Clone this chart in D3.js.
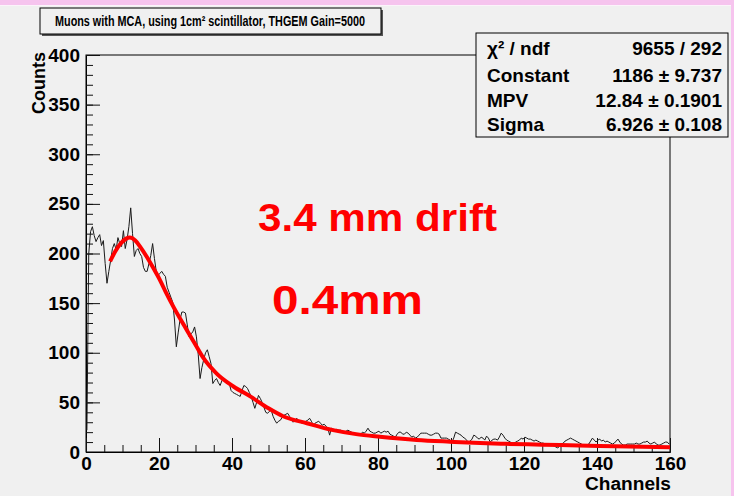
<!DOCTYPE html>
<html>
<head>
<meta charset="utf-8">
<script src="https://cdn.jsdelivr.net/npm/d3@7/dist/d3.min.js"></script>
<style>
  html, body { margin: 0; padding: 0; background: #f0f0f0; }
  svg { display: block; font-family: "Liberation Sans", Arial, sans-serif; font-weight: bold; }
</style>
</head>
<body>
<svg id="chart" width="734" height="496"></svg>
<script>
// Histogram: MCA counts per half-channel bin, channels 0..160
const binWidth = 0.5;
const counts = [
  22, 200, 222, 227, 218, 212, 216, 219, 208, 213,
  190, 170, 182, 193, 205, 210, 204, 216, 210, 207,
  223, 205, 214, 227, 246, 220, 197, 203, 205, 200,
  197, 186, 182, 182, 190, 198, 210, 195, 182, 178,
  180, 182, 179, 177, 166, 161, 156, 151, 133, 106,
  120, 133, 141, 141, 140, 128, 116, 119, 121, 126,
  116, 98, 74, 85, 93, 100, 103, 96, 89, 69,
  72, 74, 70, 67, 72, 74, 72, 70, 69, 62,
  60, 59, 58, 57, 56, 62, 67, 66, 64, 60,
  56, 50, 44, 50, 57, 54, 50, 45, 40, 39,
  41, 42, 36, 32, 29, 31, 32, 35, 37, 38,
  39, 36, 34, 30, 32, 34, 31, 30, 29, 30,
  31, 32, 34, 31, 27, 29, 30, 31, 29, 27,
  28, 26, 24, 17, 24, 23, 22, 23, 22, 22,
  21, 20, 21, 22, 21, 20, 19, 18, 17, 17,
  18, 20, 19, 21, 24, 21, 20, 19, 19, 20,
  21, 19, 20, 21, 20, 21, 18, 17, 16, 15,
  18, 20, 20, 18, 18, 20, 19, 17, 15, 16,
  14, 15, 17, 19, 19, 19, 19, 18, 17, 17,
  18, 19, 19, 18, 14, 14, 14, 14, 13, 12,
  10, 14, 20, 19, 18, 17, 15, 14, 12, 10,
  11, 13, 17, 16, 14, 13, 15, 14, 12, 16,
  14, 10, 12, 13, 13, 12, 15, 19, 17, 14,
  12, 11, 10, 9, 9, 10, 11, 12, 14, 13,
  15, 14, 13, 13, 12, 11, 12, 11, 10, 9,
  9, 8, 8, 7, 7, 7, 6, 5, 4, 6,
  8, 9, 11, 12, 13, 14, 13, 12, 11, 10,
  9, 8, 7, 7, 7, 8, 11, 14, 12, 10,
  12, 13, 11, 12, 10, 11, 10, 9, 8, 9,
  11, 13, 10, 8, 7, 7, 8, 8, 8, 8,
  8, 9, 8, 8, 9, 10, 10, 11, 9, 8,
  9, 10, 8, 7, 7, 8, 9, 10, 10, 8
];

// Landau fit curve, sampled along the fitted range [channel, counts]
const fitChannels = [6.6, 8, 9.5, 11, 12, 13.5, 15, 16.6, 18.5, 20.3, 22, 24, 26, 27.6, 30, 32.1, 35.8, 40.4, 45, 50, 54, 60.5, 67.7, 74, 80.5, 90.6, 99.7, 108, 115, 125, 135, 145, 160];
const fitValues   = [192, 202, 210, 215, 216, 213, 206, 197, 185, 173, 160, 146, 133, 123, 108, 95, 79, 66, 56, 44, 36, 29, 22, 18, 15.4, 12.2, 10.4, 9, 8.2, 7.4, 6.6, 5.8, 4.7];

const xTicks = [0, 20, 40, 60, 80, 100, 120, 140, 160];
const yTicks = [0, 50, 100, 150, 200, 250, 300, 350, 400];

const titleText = "Muons with MCA, using 1cm\u00B2 scintillator, THGEM Gain=5000";
const statLabels = ["\u03C7\u00B2 / ndf", "Constant", "MPV", "Sigma"];
const statValues = ["9655 / 292", "1186 \u00B1 9.737", "12.84 \u00B1 0.1901", "6.926 \u00B1 0.108"];
const annotations = ["3.4 mm drift", "0.4mm"];

const svg = d3.select("#chart");
const W = 734, H = 496;

// canvas background and the pink window band
svg.append("rect").attr("width", W).attr("height", H).attr("fill", "#f0f0f0");
svg.append("rect").attr("width", W).attr("height", 5).attr("fill", "#f6c4ee");
svg.append("rect").attr("y", 5).attr("width", W).attr("height", 1).attr("fill", "#fbf4fa");
svg.append("rect").attr("x", W - 3).attr("width", 3).attr("height", H).attr("fill", "#f6c4ee");

const x = d3.scaleLinear().domain([0, 160]).range([86, 670]);
const y = d3.scaleLinear().domain([0, 400]).range([452, 55]);

// frame
svg.append("rect")
  .attr("x", x(0)).attr("y", y(400))
  .attr("width", x(160) - x(0)).attr("height", y(0) - y(400))
  .attr("fill", "none").attr("stroke", "#000").attr("stroke-width", 1);

// y axis: major and minor ticks pointing into the frame
const yAxis = svg.append("g").attr("transform", `translate(${x(0)},0)`)
  .call(d3.axisLeft(y).tickValues(yTicks).tickSize(-14).tickPadding(6).tickFormat(d3.format("d")));
svg.append("g").attr("transform", `translate(${x(0)},0)`)
  .call(d3.axisLeft(y).tickValues(d3.range(0, 401, 10)).tickSize(-7).tickFormat(""))
  .select(".domain").remove();

// x axis
const xAxis = svg.append("g").attr("transform", `translate(0,${y(0)})`)
  .call(d3.axisBottom(x).tickValues(xTicks).tickSize(-14).tickPadding(5).tickFormat(d3.format("d")));
svg.append("g").attr("transform", `translate(0,${y(0)})`)
  .call(d3.axisBottom(x).tickValues(d3.range(0, 161, 5)).tickSize(-7).tickFormat(""))
  .select(".domain").remove();

svg.selectAll(".tick line").attr("stroke", "#111");
svg.selectAll(".domain").attr("stroke", "#000");
[yAxis, xAxis].forEach(g => g.selectAll("text")
  .attr("fill", "#000").style("font-size", "19px").style("font-weight", "bold")
  .style("font-family", "'Liberation Sans', Arial, sans-serif"));

// axis titles
svg.append("text")
  .attr("transform", `translate(45,52) rotate(-90)`)
  .attr("text-anchor", "end")
  .style("font-size", "18px")
  .text("Counts");
svg.append("text")
  .attr("x", 671).attr("y", 490)
  .attr("text-anchor", "end")
  .style("font-size", "18px")
  .attr("textLength", 86).attr("lengthAdjust", "spacingAndGlyphs")
  .text("Channels");

// histogram drawn as a polyline through bin centres
const histLine = d3.line()
  .x((d, i) => x((i + 0.5) * binWidth))
  .y(d => y(d));
svg.append("path")
  .datum(counts)
  .attr("d", histLine)
  .attr("fill", "none")
  .attr("stroke", "#1a1a1a")
  .attr("stroke-width", 1);

// Landau fit
const fitLine = d3.line()
  .x(d => x(d[0]))
  .y(d => y(d[1]))
  .curve(d3.curveMonotoneX);
svg.append("path")
  .datum(fitChannels.map((c, i) => [c, fitValues[i]]))
  .attr("d", fitLine)
  .attr("fill", "none")
  .attr("stroke", "#ff0000")
  .attr("stroke-width", 4)
  .attr("stroke-linejoin", "round");

// red annotations
svg.append("text")
  .attr("x", 258).attr("y", 231)
  .attr("fill", "#ff0000")
  .style("font-size", "38px")
  .attr("textLength", 239).attr("lengthAdjust", "spacingAndGlyphs")
  .text(annotations[0]);
svg.append("text")
  .attr("x", 272).attr("y", 314)
  .attr("fill", "#ff0000")
  .style("font-size", "40px")
  .attr("textLength", 151).attr("lengthAdjust", "spacingAndGlyphs")
  .text(annotations[1]);

// title box with shadow
svg.append("rect").attr("x", 42).attr("y", 10).attr("width", 341).attr("height", 26).attr("fill", "#555");
svg.append("rect").attr("x", 40).attr("y", 8).attr("width", 341).attr("height", 26)
  .attr("fill", "#f0f0f0").attr("stroke", "#000").attr("stroke-width", 1);
svg.append("text")
  .attr("x", 210).attr("y", 26)
  .attr("text-anchor", "middle")
  .style("font-size", "15px")
  .attr("textLength", 310).attr("lengthAdjust", "spacingAndGlyphs")
  .text(titleText);

// statistics box
const stats = svg.append("g");
stats.append("rect").attr("x", 476).attr("y", 33).attr("width", 252).attr("height", 104)
  .attr("fill", "#f0f0f0").attr("stroke", "#000").attr("stroke-width", 1);
const rowY = [55, 82, 107, 131];
stats.selectAll("text.lab").data(statLabels).join("text")
  .attr("class", "lab")
  .attr("x", 487).attr("y", (d, i) => rowY[i])
  .style("font-size", "19px")
  .text(d => d);
stats.selectAll("text.val").data(statValues).join("text")
  .attr("class", "val")
  .attr("x", 722).attr("y", (d, i) => rowY[i])
  .attr("text-anchor", "end")
  .style("font-size", "19px")
  .text(d => d);
</script>
</body>
</html>
